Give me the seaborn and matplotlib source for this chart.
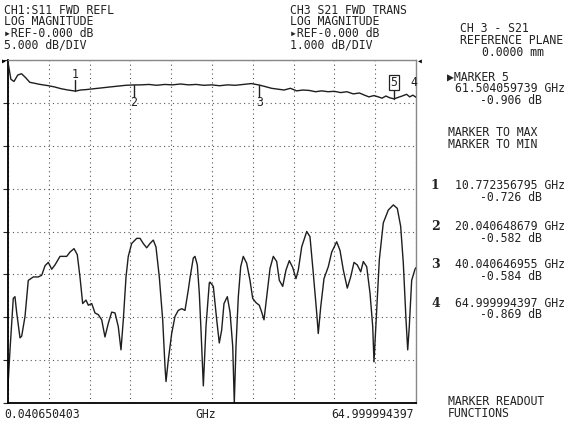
import numpy as np
import pandas as pd
import seaborn as sns
import matplotlib
matplotlib.use("Agg")
import matplotlib.pyplot as plt

# sweep limits (GHz)
f_start = 0.040650403
f_stop = 64.999994397

# CH1 S11 trace (GHz, dB)
s11_freq = [0.04, 0.09, 0.36, 0.88, 1.15, 1.43, 1.95, 2.22, 2.75, 3.27, 4.07, 4.86, 5.41, 5.93, 6.46,
            7.00, 7.52, 8.32, 9.39, 9.91, 10.55, 11.07, 11.50, 11.93, 12.46, 12.83, 13.37, 13.89,
            14.42, 14.96, 15.48, 16.01, 16.55, 17.08, 17.60, 18.03, 18.40, 18.83, 19.19, 19.73,
            20.53, 21.06, 21.58, 22.12, 22.65, 23.17, 23.60, 24.13, 24.67, 25.04, 25.20, 25.56,
            26.10, 26.63, 27.15, 27.70, 28.22, 28.75, 29.02, 29.54, 29.81, 30.18, 30.50, 30.77,
            31.14, 31.57, 32.09, 32.20, 32.73, 33.27, 33.68, 34.06, 34.43, 34.96, 35.39, 35.82,
            36.07, 36.34, 36.71, 37.09, 37.50, 38.04, 38.57, 39.00, 39.53, 40.05, 40.43, 40.80,
            41.23, 41.76, 42.28, 42.82, 43.24, 43.78, 44.30, 44.83, 45.37, 45.89, 46.26, 46.80,
            47.60, 48.12, 48.65, 49.19, 49.44, 49.83, 50.35, 51.04, 51.58, 52.37, 52.90, 53.43,
            54.06, 54.60, 55.13, 55.65, 56.20, 56.61, 57.15, 57.68, 58.11, 58.31, 58.63, 59.16,
            59.79, 60.59, 61.39, 62.02, 62.56, 62.98, 63.41, 63.68, 63.93, 64.31, 64.84, 65.00]
s11_db = [-38.5, -37.3, -33.8, -27.8, -27.6, -29.5, -32.4, -32.2, -29.9, -25.7, -25.3, -25.3, -25.1,
          -24.0, -23.6, -24.4, -23.9, -22.9, -22.9, -22.4, -22.0, -22.7, -25.3, -28.4, -28.0, -28.6,
          -28.4, -29.5, -29.7, -30.3, -32.3, -30.7, -29.4, -29.5, -31.1, -33.8, -30.3, -25.3, -22.9,
          -21.4, -20.8, -20.8, -21.4, -21.9, -21.4, -21.0, -21.8, -25.3, -30.3, -35.8, -37.5, -35.0,
          -31.9, -29.9, -29.2, -29.0, -29.2, -26.8, -25.4, -23.1, -22.9, -23.9, -27.2, -31.5, -38.0,
          -31.0, -26.0, -25.9, -26.4, -30.3, -33.0, -31.5, -28.4, -27.6, -29.4, -33.4, -40.0, -33.4,
          -27.6, -24.1, -22.9, -23.7, -25.7, -27.8, -28.3, -28.6, -29.4, -30.3, -27.6, -24.3, -22.9,
          -23.5, -25.7, -26.4, -24.5, -23.4, -24.2, -25.5, -24.5, -21.8, -20.0, -20.6, -24.9, -29.5,
          -31.9, -28.8, -25.5, -24.1, -22.4, -21.2, -22.2, -24.5, -26.6, -25.3, -23.6, -23.9, -24.7,
          -23.5, -24.1, -27.2, -31.1, -35.2, -30.7, -23.3, -19.0, -17.5, -16.9, -17.3, -19.4, -23.7,
          -30.3, -33.8, -31.1, -25.7, -24.4, -24.2]

# CH3 S21 trace (GHz, dB)
s21_freq = [0.04, 0.5, 1.0, 1.6, 2.2, 2.9, 3.5, 4.2, 4.8, 5.6, 6.5, 7.5, 8.5, 9.6, 10.77, 11.6, 12.5,
            13.7, 15.0, 16.2, 17.5, 18.8, 20.04, 21.2, 22.5, 23.7, 25.0, 26.2, 27.5, 28.8, 30.0, 31.2,
            32.5, 33.7, 35.0, 36.2, 37.5, 38.8, 40.04, 41.0, 42.0, 43.0, 44.0, 45.0, 46.0, 47.0, 48.0,
            49.0, 50.0, 51.0, 52.0, 53.0, 54.0, 55.0, 56.0, 56.8, 57.5, 58.3, 59.0, 59.6, 60.2, 60.8,
            61.5, 62.2, 62.8, 63.5, 64.0, 64.5, 65.0]
s21_db = [-0.05, -0.45, -0.50, -0.35, -0.32, -0.42, -0.52, -0.54, -0.56, -0.58, -0.60, -0.63, -0.67,
          -0.70, -0.726, -0.70, -0.69, -0.67, -0.65, -0.63, -0.61, -0.59, -0.582, -0.58, -0.57, -0.59,
          -0.57, -0.58, -0.56, -0.58, -0.57, -0.59, -0.58, -0.60, -0.58, -0.59, -0.57, -0.55, -0.584,
          -0.62, -0.66, -0.68, -0.70, -0.66, -0.72, -0.70, -0.71, -0.74, -0.72, -0.74, -0.73, -0.76,
          -0.74, -0.79, -0.77, -0.82, -0.86, -0.83, -0.86, -0.89, -0.84, -0.88, -0.906, -0.87, -0.84,
          -0.80, -0.86, -0.82, -0.869]

# marker readout
mk_num = ["1", "2", "3", "4"]
mk_freq = [10.772356795, 20.040648679, 40.040646955, 64.999994397]
mk_db = [-0.726, -0.582, -0.584, -0.869]
mk5_freq = 61.504059739
mk5_db = -0.906

W, H = 569, 423
sns.set_style("white")
plt.rcParams['font.family'] = ['DejaVu Sans Mono', 'DejaVu Sans']
txt = dict(fontsize=8.3, color="#222222", va="center")

fig = plt.figure(figsize=(W / 100, H / 100), dpi=100)
ax = fig.add_axes([8 / W, (H - 403) / H, 408 / W, 343 / H])

df11 = pd.DataFrame({"freq": s11_freq, "db": s11_db})
sns.lineplot(data=df11, x="freq", y="db", ax=ax, color="#1e1e1e", lw=1.0, estimator=None, sort=False)
ax.set_xlim(f_start, f_stop)
ax.set_ylim(-40, 0)
ax.set_xticks(np.linspace(f_start, f_stop, 11))
ax.set_yticks(np.linspace(-40, 0, 9))
ax.grid(True, color="#555555", linestyle=(0, (1, 3)), linewidth=0.8)
ax.tick_params(left=False, bottom=False, labelleft=False, labelbottom=False)
ax.set_xlabel("")
ax.set_ylabel("")
for s in ["left", "bottom"]:
    ax.spines[s].set_color("black")
    ax.spines[s].set_linewidth(1.3)
for s in ["top", "right"]:
    ax.spines[s].set_color("#888888")
    ax.spines[s].set_linewidth(1.0)

ax2 = ax.twinx()
df21 = pd.DataFrame({"freq": s21_freq, "db": s21_db})
sns.lineplot(data=df21, x="freq", y="db", ax=ax2, color="#1e1e1e", lw=1.0, estimator=None, sort=False)
ax2.set_ylim(-8, 0)
ax2.set_xlim(f_start, f_stop)
ax2.tick_params(right=False, labelright=False)
ax2.set_ylabel("")
ax2.grid(False)
for s in ax2.spines.values():
    s.set_visible(False)

# marker flags on S21
mk = dict(fontsize=8.3, color="#222222", ha="center", va="center")
ax2.plot([mk_freq[0]] * 2, [mk_db[0], -0.47], color="#222222", lw=1)
ax2.text(mk_freq[0], -0.33, mk_num[0], **mk)
for i in (1, 2):
    ax2.plot([mk_freq[i]] * 2, [mk_db[i], -0.86], color="#222222", lw=1)
    ax2.text(mk_freq[i], -1.0, mk_num[i], **mk)
ax2.text(mk_freq[3] - 0.3, -0.52, mk_num[3], **mk)
ax2.plot([mk5_freq] * 2, [mk5_db, -0.66], color="#222222", lw=1)
ax2.text(mk5_freq, -0.53, "5", bbox=dict(boxstyle="square,pad=0.1", fc="white", ec="#222222", lw=0.9), **mk)

# reference arrows
fig.text(1 / W, 1 - 61 / H, "\u25b8", fontsize=7, color="black", va="center")
fig.text(417 / W, 1 - 61 / H, "\u25c2", fontsize=7, color="black", va="center")

def put(x, y, s, **kw):
    d = dict(txt)
    d.update(kw)
    fig.text(x / W, 1 - y / H, s, **d)

# header, channel 1 and channel 3
for i, s in enumerate(["CH1:S11 FWD REFL", "LOG MAGNITUDE", "\u25b8REF-0.000 dB", "5.000 dB/DIV"]):
    put(4, 10 + 11.6 * i, s)
for i, s in enumerate(["CH3 S21 FWD TRANS", "LOG MAGNITUDE", "\u25b8REF-0.000 dB", "1.000 dB/DIV"]):
    put(290, 10 + 11.6 * i, s)

# right panel
put(460, 28, "CH 3 - S21")
put(460, 40, "REFERENCE PLANE")
put(482, 52, "0.0000 mm")
put(447, 77, "\u25b6MARKER 5")
put(455, 89, "%.9f GHz" % mk5_freq)
put(480, 101, "%.3f dB" % mk5_db)
put(448, 133, "MARKER TO MAX")
put(448, 145, "MARKER TO MIN")
for i, y in enumerate([185, 226, 265, 303]):
    put(431, y, mk_num[i], fontweight="bold", family="DejaVu Serif", fontsize=9)
    put(455, y, "%.9f GHz" % mk_freq[i])
    put(480, y + 12, "%.3f dB" % mk_db[i])
put(448, 401, "MARKER READOUT")
put(448, 413, "FUNCTIONS")

# x annotations
put(4, 414, "%.9f" % f_start)
put(206, 414, "GHz", ha="center")
put(414, 414, "%.9f" % f_stop, ha="right")

fig.savefig("out.png", dpi=100, facecolor="white")
